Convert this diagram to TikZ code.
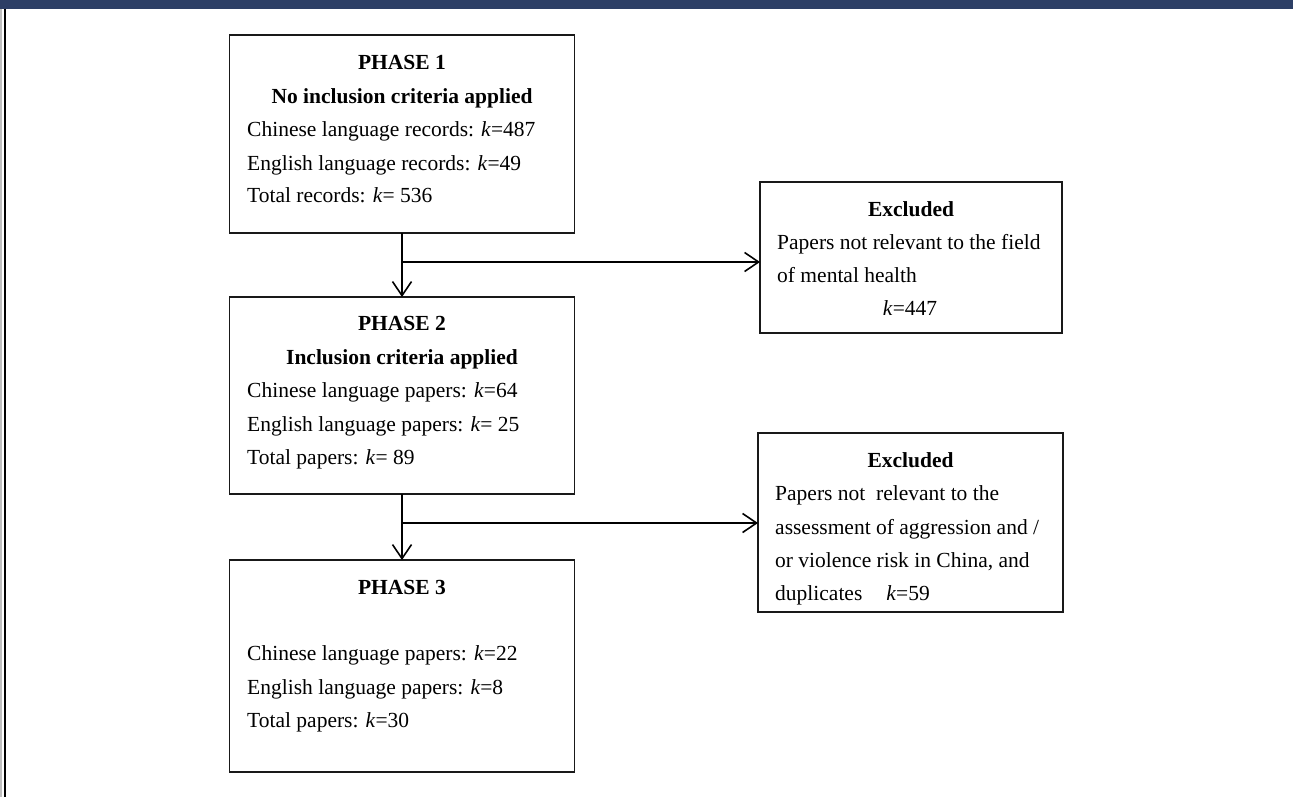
\documentclass[tikz,border=0pt]{standalone}
\usepackage{fontspec}
\setmainfont{Liberation Serif}
\usetikzlibrary{arrows.meta}
\definecolor{navybar}{HTML}{2D3F66}
\begin{document}
\begin{tikzpicture}[x=1pt,y=-1pt,
  stagebox/.style={draw=black!90, line width=1.5pt, inner sep=0pt, outer sep=0pt, minimum width=#1},
  txt/.style={anchor=base west, inner sep=0pt, font=\fontsize{21.5}{26}\selectfont},
  head/.style={anchor=base, inner sep=0pt, font=\fontsize{21.5}{26}\selectfont\bfseries},
  ln/.style={line width=1.6pt, draw=black},
  arr/.style={ln, -{Straight Barb[length=14pt,width=19pt,line width=1.6pt]}}
]
\useasboundingbox (0,0) rectangle (1293,797);
% frame
\fill[navybar] (0,0) rectangle (1293,9);
\fill[black!25] (0,9) rectangle (1.5,797);
\draw[line width=1.5pt] (5,9) -- (5,797);

% boxes
\node[stagebox=345, minimum height=198] (p1) at (402,134) {};
\node[stagebox=345, minimum height=197] (p2) at (402,395.5) {};
\node[stagebox=345, minimum height=212] (p3) at (402,666) {};
\node[stagebox=302, minimum height=151] (ex1) at (911,257.5) {};
\node[stagebox=305, minimum height=179] (ex2) at (910.5,522.5) {};

% phase 1 text
\node[head] (p1h) at (402,70) {PHASE 1};
\node[head] (p1s) at (402,104) {No inclusion criteria applied};
\node[txt] (p1a) at (247,137) {Chinese language records: \textit{k}=487};
\node[txt] (p1b) at (247,170) {English language records: \textit{k}=49};
\node[txt] (p1c) at (247,202) {Total records: \textit{k}= 536};

% phase 2 text
\node[head] (p2h) at (402,330) {PHASE 2};
\node[head] (p2s) at (402,364) {Inclusion criteria applied};
\node[txt] (p2a) at (247,397) {Chinese language papers: \textit{k}=64};
\node[txt] (p2b) at (247,431) {English language papers: \textit{k}= 25};
\node[txt] (p2c) at (247,464) {Total papers: \textit{k}= 89};

% phase 3 text
\node[head] (p3h) at (402,594) {PHASE 3};
\node[txt] (p3a) at (247,660) {Chinese language papers: \textit{k}=22};
\node[txt] (p3b) at (247,694) {English language papers: \textit{k}=8};
\node[txt] (p3c) at (247,727) {Total papers: \textit{k}=30};

% excluded 1 text
\node[head] (e1h) at (911,216) {Excluded};
\node[txt] (e1a) at (777,249) {Papers not relevant to the field};
\node[txt] (e1b) at (777,282) {of mental health};
\node[anchor=base, inner sep=0pt, font=\fontsize{21.5}{26}\selectfont] (e1c) at (910,315) {\textit{k}=447};

% excluded 2 text
\node[head] (e2h) at (910.5,467) {Excluded};
\node[txt] (e2a) at (775,500) {Papers not\ \ relevant to the};
\node[txt] (e2b) at (775,534) {assessment of aggression and /};
\node[txt] (e2c) at (775,567) {or violence risk in China, and};
\node[txt] (e2d) at (775,600) {duplicates\hspace{24pt}\textit{k}=59};

% connectors
\coordinate (j1) at (402,262);
\coordinate (j2) at (402,523);
\draw[arr] (p1.south) -- (p2.north);
\draw[arr] (j1) -- (j1 -| ex1.west);
\draw[arr] (p2.south) -- (p3.north);
\draw[arr] (j2) -- (j2 -| ex2.west);
\end{tikzpicture}
\end{document}
